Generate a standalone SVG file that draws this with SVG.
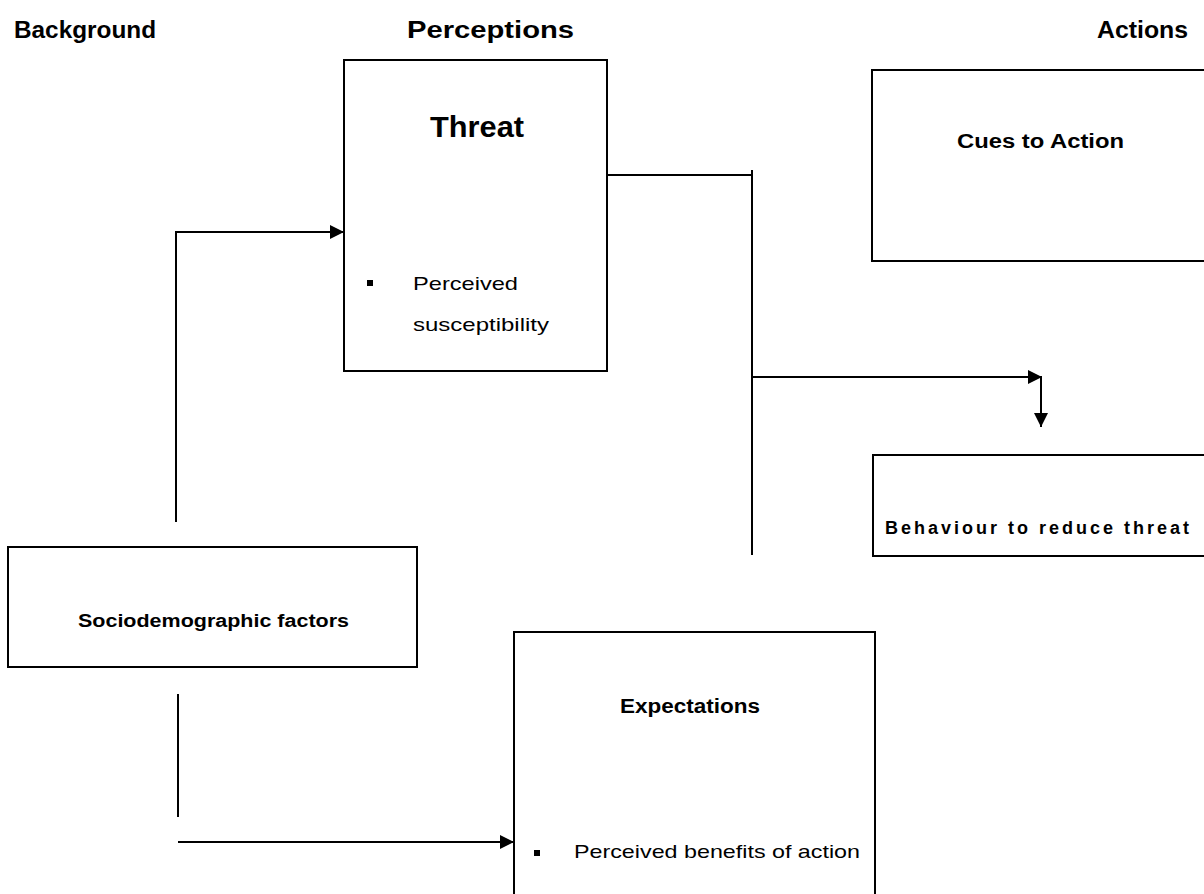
<svg xmlns="http://www.w3.org/2000/svg" width="1204" height="894" viewBox="0 0 1204 894">
<style>
.box{fill:#fff;stroke:#000;stroke-width:2}
.ln{fill:none;stroke:#000;stroke-width:2}
text{font-family:"Liberation Sans",Arial,sans-serif;fill:#000}
.h{font-size:23px;font-weight:bold}
.b{font-weight:bold}
</style>
<defs>
<marker id="ah" viewBox="0 0 10 10" refX="10" refY="5" markerWidth="15" markerHeight="14" markerUnits="userSpaceOnUse" orient="auto">
<path d="M0,0 L10,5 L0,10 z" fill="#000"/>
</marker>
</defs>
<rect width="1204" height="894" fill="#fff"/>
<g id="headers">
<text class="h" x="14" y="38" textLength="142" lengthAdjust="spacingAndGlyphs">Background</text>
<text class="h" x="407" y="38" textLength="167" lengthAdjust="spacingAndGlyphs">Perceptions</text>
<text class="h" x="1097" y="38" textLength="91" lengthAdjust="spacingAndGlyphs">Actions</text>
</g>
<g id="connectors">
<polyline class="ln" points="176,522 176,232 344,232" marker-end="url(#ah)"/>
<polyline class="ln" points="607,175 752,175"/>
<line class="ln" x1="752" y1="170" x2="752" y2="555"/>
<polyline class="ln" points="752,377 1042,377" marker-end="url(#ah)"/>
<polyline class="ln" points="1041,377 1041,427" marker-end="url(#ah)"/>
<line class="ln" x1="178" y1="694" x2="178" y2="817"/>
<polyline class="ln" points="178,842 514,842" marker-end="url(#ah)"/>
</g>
<g id="threat">
<rect class="box" x="344" y="60" width="263" height="311"/>
<text class="b" x="430" y="137" font-size="30" textLength="94" lengthAdjust="spacingAndGlyphs">Threat</text>
<rect x="367" y="280" width="6" height="6" fill="#000"/>
<text x="413" y="290" font-size="19" textLength="105" lengthAdjust="spacingAndGlyphs">Perceived</text>
<text x="413" y="331" font-size="19" textLength="136" lengthAdjust="spacingAndGlyphs">susceptibility</text>
</g>
<g id="cues">
<rect class="box" x="872" y="70" width="340" height="191"/>
<text class="b" x="957" y="148" font-size="20" textLength="167" lengthAdjust="spacingAndGlyphs">Cues to Action</text>
</g>
<g id="behaviour">
<rect class="box" x="873" y="455" width="340" height="101"/>
<text class="b" x="885" y="534" font-size="18" textLength="304" lengthAdjust="spacing">Behaviour to reduce threat</text>
</g>
<g id="socio">
<rect class="box" x="8" y="547" width="409" height="120"/>
<text class="b" x="78" y="627" font-size="18" textLength="271" lengthAdjust="spacingAndGlyphs">Sociodemographic factors</text>
</g>
<g id="expectations">
<rect class="box" x="514" y="632" width="361" height="280"/>
<text class="b" x="620" y="713" font-size="20" textLength="140" lengthAdjust="spacingAndGlyphs">Expectations</text>
<rect x="534" y="850" width="6" height="6" fill="#000"/>
<text x="574" y="858" font-size="19" textLength="286" lengthAdjust="spacingAndGlyphs">Perceived benefits of action</text>
</g>
</svg>
